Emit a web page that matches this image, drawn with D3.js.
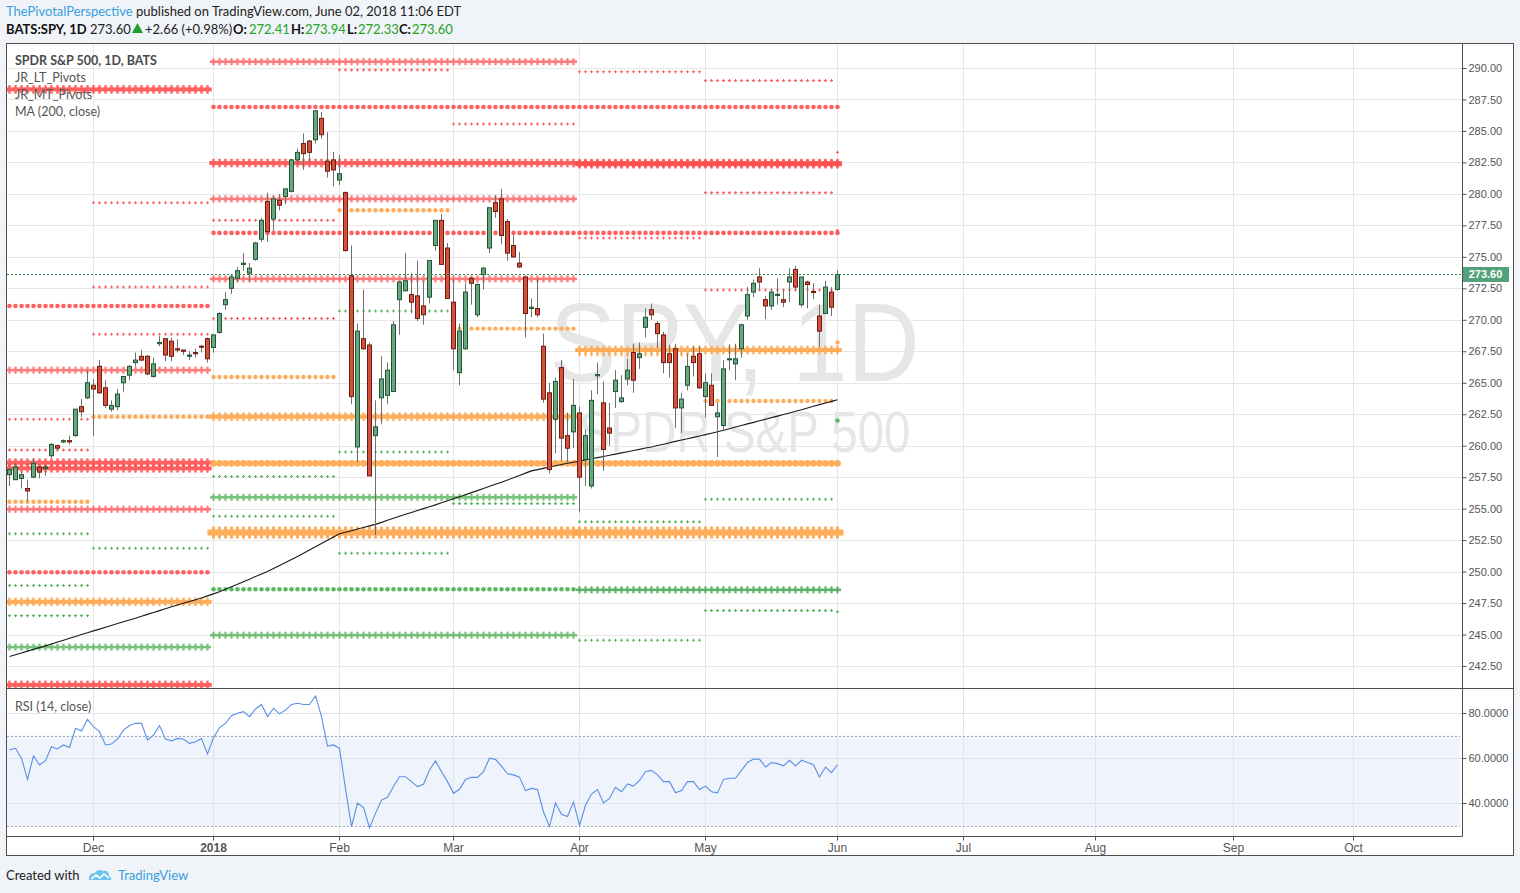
<!DOCTYPE html>
<html><head><meta charset="utf-8">
<script src="https://cdn.jsdelivr.net/npm/d3@7"></script>
<style>
body{margin:0;background:#f0f3f7;}
svg{display:block}
.ui{font-family:Lato,"Open Sans",sans-serif;}
.ax{font-family:"Liberation Sans",Arial,sans-serif;font-size:11px;fill:#555;}
</style></head><body>
<svg id="c" width="1520" height="893"></svg>
<script>
// ---------------- DATA ----------------
const dates = [
"2017-11-10","2017-11-13","2017-11-14","2017-11-15","2017-11-16","2017-11-17","2017-11-20","2017-11-21","2017-11-22","2017-11-24","2017-11-27","2017-11-28","2017-11-29","2017-11-30",
"2017-12-01","2017-12-04","2017-12-05","2017-12-06","2017-12-07","2017-12-08","2017-12-11","2017-12-12","2017-12-13","2017-12-14","2017-12-15","2017-12-18","2017-12-19","2017-12-20","2017-12-21","2017-12-22","2017-12-26","2017-12-27","2017-12-28","2017-12-29",
"2018-01-02","2018-01-03","2018-01-04","2018-01-05","2018-01-08","2018-01-09","2018-01-10","2018-01-11","2018-01-12","2018-01-16","2018-01-17","2018-01-18","2018-01-19","2018-01-22","2018-01-23","2018-01-24","2018-01-25","2018-01-26","2018-01-29","2018-01-30","2018-01-31",
"2018-02-01","2018-02-02","2018-02-05","2018-02-06","2018-02-07","2018-02-08","2018-02-09","2018-02-12","2018-02-13","2018-02-14","2018-02-15","2018-02-16","2018-02-20","2018-02-21","2018-02-22","2018-02-23","2018-02-26","2018-02-27","2018-02-28",
"2018-03-01","2018-03-02","2018-03-05","2018-03-06","2018-03-07","2018-03-08","2018-03-09","2018-03-12","2018-03-13","2018-03-14","2018-03-15","2018-03-16","2018-03-19","2018-03-20","2018-03-21","2018-03-22","2018-03-23","2018-03-26","2018-03-27","2018-03-28","2018-03-29",
"2018-04-02","2018-04-03","2018-04-04","2018-04-05","2018-04-06","2018-04-09","2018-04-10","2018-04-11","2018-04-12","2018-04-13","2018-04-16","2018-04-17","2018-04-18","2018-04-19","2018-04-20","2018-04-23","2018-04-24","2018-04-25","2018-04-26","2018-04-27","2018-04-30",
"2018-05-01","2018-05-02","2018-05-03","2018-05-04","2018-05-07","2018-05-08","2018-05-09","2018-05-10","2018-05-11","2018-05-14","2018-05-15","2018-05-16","2018-05-17","2018-05-18","2018-05-21","2018-05-22","2018-05-23","2018-05-24","2018-05-25","2018-05-29","2018-05-30","2018-05-31",
"2018-06-01"];

const open = [
257.7,257.3,257.4,256.6,257.5,258.3,258.2,259.2,260.0,260.3,260.4,260.8,263.1,263.8,
264.8,266.3,264.6,262.9,263.1,265.0,265.6,266.6,267.1,267.1,265.5,268.1,268.5,268.3,267.7,267.6,267.1,267.4,267.9,268.5,
267.8,269.0,271.2,272.5,273.3,274.4,273.7,274.8,276.4,279.4,278.0,279.5,279.8,280.2,282.7,284.0,284.2,284.3,286.0,282.6,282.7,
281.1,280.1,273.5,259.9,268.5,268.0,260.8,263.8,264.0,264.3,271.6,272.3,272.0,271.9,271.1,271.8,275.9,277.9,275.7,
271.4,265.8,267.7,273.3,270.4,273.6,275.7,279.3,279.6,277.8,275.9,274.5,273.4,270.9,270.9,267.9,264.2,262.1,266.2,260.8,261.1,
262.6,258.9,256.8,265.55,263.4,261.4,264.3,263.5,265.3,267.4,267.0,269.4,270.8,269.7,268.8,267.3,267.7,263.0,264.8,267.1,267.3,
263.9,264.8,262.3,261.6,266.85,266.5,267.7,270.3,272.2,273.4,271.6,271.1,272.0,271.6,273.0,274.0,271.2,273.0,272.25,270.3,270.5,272.2,
272.41];
const high = [
258.3,258.6,257.9,257.3,259.0,258.4,258.5,260.2,260.1,260.5,260.8,262.9,263.7,266.0,
265.3,266.8,265.2,263.6,264.5,265.5,266.4,267.4,267.6,267.2,267.0,268.7,268.5,268.6,268.45,267.6,267.5,267.7,268.0,268.6,
268.8,270.6,272.2,273.6,274.2,275.3,274.5,276.2,278.1,280.1,279.9,280.0,280.4,282.7,283.6,284.8,284.3,286.6,286.5,284.9,283.35,
283.1,280.2,275.9,269.7,272.4,268.2,263.6,267.1,266.6,269.9,273.0,275.3,273.7,274.7,273.1,274.7,277.9,278.4,276.1,
273.2,269.7,272.9,273.4,272.9,274.2,278.9,279.9,280.4,278.0,276.7,275.4,273.4,271.7,273.3,268.9,265.0,265.4,266.8,262.6,265.3,
263.1,261.3,264.4,266.6,265.1,263.4,266.0,265.6,266.9,268.1,268.2,270.9,271.3,269.9,269.05,268.0,268.1,264.2,267.3,267.9,267.9,
265.75,265.75,263.4,266.8,268.05,268.1,269.7,272.6,273.2,274.1,271.9,272.4,273.3,272.4,274.1,274.3,273.4,273.1,272.9,271.2,273.1,272.6,
273.94];
const low = [
256.8,257.3,256.6,255.6,257.4,257.4,257.6,259.0,259.6,260.2,260.1,260.7,262.3,263.7,
260.8,264.1,263.0,262.7,262.8,264.3,265.2,266.3,266.7,265.6,265.4,267.9,266.7,266.7,267.4,267.2,266.8,267.0,267.4,266.6,
267.4,268.9,270.8,272.05,273.0,273.9,273.0,274.7,276.2,276.2,277.1,278.7,279.2,280.1,282.3,281.9,282.5,284.0,284.4,281.3,280.6,
280.7,275.4,263.3,258.7,267.6,257.6,252.9,261.7,263.3,264.3,268.8,272.3,270.5,269.9,269.6,271.3,275.5,274.4,271.7,
266.0,264.8,267.6,271.2,270.2,272.4,275.3,278.1,276.0,274.7,274.9,274.1,268.6,270.2,270.2,263.4,257.8,259.4,258.8,258.6,259.8,
254.7,256.8,256.6,264.1,258.0,260.0,263.0,263.4,264.8,264.2,266.1,268.6,270.0,267.8,265.75,265.4,261.4,261.0,264.4,265.5,264.5,
262.25,263.2,259.1,261.2,266.0,265.2,267.0,270.0,271.8,272.4,270.05,270.8,271.2,271.0,271.4,272.4,271.0,270.9,271.65,267.9,270.5,270.3,
272.33];
const close = [
258.1,258.3,257.7,256.4,258.6,257.9,258.3,260.1,259.8,260.4,260.3,262.9,262.7,265.0,
264.5,264.2,263.2,263.2,264.1,265.5,266.3,266.8,266.8,265.7,266.5,268.2,267.2,267.1,267.6,267.5,267.2,267.3,267.87,266.9,
268.8,270.5,271.6,273.4,273.9,274.5,274.1,276.1,277.9,277.0,279.6,279.1,280.4,282.7,283.3,283.2,283.3,286.6,284.7,281.8,281.9,
281.6,275.5,263.9,269.1,267.7,257.6,261.5,265.3,266.0,269.6,273.0,273.1,271.4,270.1,270.4,274.7,277.9,274.4,271.7,
267.7,269.1,272.2,272.9,272.8,274.1,278.9,278.6,276.7,275.3,275.0,274.2,270.5,271.0,270.4,263.7,258.1,265.1,260.6,259.8,263.2,
257.5,260.8,263.6,265.65,259.7,261.0,265.2,263.8,266.0,265.2,267.3,270.2,270.4,268.9,266.6,266.6,263.0,263.7,266.3,266.6,264.6,
265.0,263.2,262.6,266.1,266.9,266.9,269.6,272.0,272.9,273.0,271.1,272.2,272.02,271.4,273.4,272.6,273.4,272.8,272.2,269.1,272.6,271.0,
273.60];

const ma200 = [
243.25,243.39,243.53,243.68,243.82,243.96,244.10,244.25,244.40,244.55,244.70,244.85,245.00,245.14,
245.29,245.43,245.58,245.72,245.87,246.01,246.16,246.30,246.45,246.60,246.75,246.90,247.05,247.20,247.34,247.48,247.62,247.76,247.90,248.07,
248.23,248.40,248.60,248.80,249.00,249.20,249.40,249.60,249.80,250.00,250.24,250.48,250.72,250.96,251.20,251.46,251.71,251.97,252.23,252.49,252.74,
253.00,253.13,253.25,253.38,253.50,253.63,253.75,253.91,254.08,254.24,254.40,254.55,254.70,254.85,255.00,255.15,255.30,255.46,255.62,
255.78,255.94,256.10,256.27,256.43,256.60,256.77,256.93,257.10,257.28,257.46,257.64,257.82,258.00,258.10,258.20,258.30,258.40,258.50,258.60,258.69,
258.78,258.87,258.96,259.05,259.14,259.24,259.33,259.43,259.52,259.62,259.71,259.81,259.90,260.01,260.12,260.23,260.34,260.45,260.55,260.66,260.77,
260.88,260.99,261.10,261.23,261.35,261.48,261.60,261.73,261.85,261.98,262.10,262.23,262.35,262.48,262.60,262.73,262.86,262.99,263.13,263.26,263.39,263.52,
263.65];

const rsi = [
63.6,64.3,59.9,50.5,61.0,56.9,58.8,65.0,64.0,65.8,64.7,73.2,72.0,77.2,
73.9,71.7,65.8,66.2,68.4,72.4,74.4,75.4,75.4,68.0,70.2,74.4,68.4,67.6,68.7,68.3,66.5,67.2,68.7,61.8,
69.0,73.5,75.4,78.8,79.9,80.6,78.4,81.8,83.8,78.4,82.1,79.6,81.3,83.8,84.3,83.8,83.8,87.6,78.4,65.3,65.8,
64.3,46.4,29.5,39.9,38.1,29.0,35.4,41.3,42.5,47.3,51.7,51.7,49.5,47.3,48.3,54.7,58.7,53.9,49.5,
44.3,46.1,50.5,51.4,51.4,53.9,59.9,59.4,56.4,53.0,52.5,51.5,45.5,46.5,46.0,36.0,29.5,40.0,35.0,34.0,40.5,
30.0,39.0,44.0,46.0,40.0,42.0,47.0,45.0,48.5,47.5,50.0,54.0,54.5,52.5,49.5,49.5,44.5,45.5,49.5,49.5,46.0,
47.5,45.0,44.5,50.5,51.0,51.0,54.5,58.0,59.5,59.5,56.0,58.0,57.5,56.5,59.0,56.5,59.0,58.0,57.0,51.5,56.0,53.5,
57.0];

const priceTicks = [290,287.5,285,282.5,280,277.5,275,272.5,270,267.5,265,262.5,260,257.5,255,252.5,250,247.5,245,242.5];
const rsiTicks = [80,60,40];
const rsiBand = [70,30];
const monthTicks = [["2017-12-01","Dec"],["2018-01-02","2018"],["2018-02-01","Feb"],["2018-03-01","Mar"],["2018-04-02","Apr"],["2018-05-01","May"],["2018-06-01","Jun"],["2018-07-02","Jul"],["2018-08-01","Aug"],["2018-09-03","Sep"],["2018-10-01","Oct"]];
const lastPrice = 273.60;

// pivot periods (first, last trading day)
const periods = {
  Q4:["2017-11-10","2017-12-29"], Q1:["2018-01-02","2018-03-29"], Q2:["2018-04-02","2018-06-01"],
  Nov:["2017-11-10","2017-11-30"], Dec:["2017-12-01","2017-12-29"], Jan:["2018-01-02","2018-01-31"],
  Feb:["2018-02-01","2018-02-28"], Mar:["2018-03-01","2018-03-29"], Apr:["2018-04-02","2018-04-30"],
  May:["2018-05-01","2018-05-31"], Jun:["2018-06-01","2018-06-01"]
};
// [period, level, tone]  R = resistance, P = pivot, S = support, D = deep support
const ltHeavy = [["Q4",288.3,"R"],["Q4",258.65,"R"],["Q4",258.2,"R"],["Q4",247.6,"P"],["Q4",241.0,"R"],
  ["Q1",282.45,"R"],["Q2",282.45,"R"],["Q2",282.35,"R"],["Q1",262.3,"P"],["Q2",267.6,"P"]];
const ltMedium = [["Q4",266.0,"R"],["Q4",254.95,"R"],["Q4",244.0,"S"],["Q1",290.5,"R"],["Q1",279.6,"R"],["Q1",273.25,"R"],
  ["Q1",255.9,"S"],["Q1",244.95,"S"],["Q2",248.55,"D"]];
const ltHuge = [["Q1",253.1,"P"],["Q2",253.1,"P"]];
const ltBigDots = [["Q1",258.6,"P"],["Q2",258.6,"P"]];
const ltDots = [["Q4",271.1,"R"],["Q4",249.95,"R"],["Q1",286.9,"R"],["Q2",286.9,"R"],["Q1",276.9,"R"],["Q2",276.9,"R"],["Q1",248.6,"S"]];
const mtDots = [["Nov",255.55,"P"],["Dec",262.3,"P"],["Jan",265.45,"P"],["Feb",278.7,"P"],["Mar",269.3,"P"],["May",263.55,"P"],["Jun",268.2,"P"],["Jun",262.0,"S"]];
const mtMinor = [
  ["Nov",262.1,"R"],["Nov",259.65,"R"],["Nov",253.0,"S"],["Nov",248.9,"S"],["Nov",246.5,"S"],
  ["Dec",279.3,"R"],["Dec",272.6,"R"],["Dec",268.85,"R"],["Dec",251.85,"S"],
  ["Jan",277.9,"R"],["Jan",270.1,"R"],["Jan",257.55,"S"],["Jan",254.4,"S"],
  ["Feb",289.85,"R"],["Feb",270.7,"S"],["Feb",259.5,"S"],["Feb",251.45,"S"],
  ["Mar",285.55,"R"],["Mar",255.4,"S"],
  ["Apr",289.7,"R"],["Apr",276.5,"R"],["Apr",267.2,"P"],["Apr",253.95,"S"],["Apr",244.55,"S"],
  ["May",289.0,"R"],["May",280.1,"R"],["May",272.37,"R"],["May",255.75,"S"],["May",246.9,"S"],
  ["Jun",283.3,"R"],["Jun",277.1,"R"],["Jun",246.8,"S"]];

// ---------------- LAYOUT ----------------
const svg = d3.select("#c");
const L=7, R=1462, T=44, MB=688, RB=836.5, FB=855.5, FR=1513.5;
const toneColor = d3.scaleOrdinal().domain(["R","P","S","D"]).range(["#ff4f4f","#ffa54a","#4caf50","#2a9a3a"]);

const idx = new Map(dates.map((d,i)=>[d,i]));
function barIndex(ds){
  if(idx.has(ds)) return idx.get(ds);
  let d = new Date(dates[dates.length-1]+"T12:00:00Z"), t = new Date(ds+"T12:00:00Z"), n = dates.length-1;
  while(d < t){ d = new Date(d.getTime()+86400000); const w=d.getUTCDay(); if(w!==0&&w!==6) n++; }
  return n;
}
const x = d3.scaleLinear().domain([0, dates.length-1]).range([9, 837]);
const y = d3.scaleLinear().domain([242.5, 290]).range([666, 68]);
const yr = d3.scaleLinear().domain([40, 80]).range([803, 713]);

svg.append("rect").attr("x",L).attr("y",T).attr("width",FR-L).attr("height",FB-T).attr("fill","#fff");

const defs = svg.append("defs");
defs.append("clipPath").attr("id","cm").append("rect").attr("x",L).attr("y",T).attr("width",R-L).attr("height",MB-T);
defs.append("clipPath").attr("id","cr").append("rect").attr("x",L).attr("y",MB).attr("width",R-L).attr("height",RB-MB);

const monthIdx = monthTicks.map(m=>barIndex(m[0]));

// grids
const gMain = svg.append("g").attr("clip-path","url(#cm)");
gMain.selectAll(".hg").data(priceTicks).join("line")
  .attr("x1",L).attr("x2",R).attr("y1",d=>Math.round(y(d))+0.5).attr("y2",d=>Math.round(y(d))+0.5)
  .attr("stroke","#e6e6e6");
gMain.selectAll(".vg").data(monthIdx).join("line")
  .attr("x1",d=>x(d)+0.5).attr("x2",d=>x(d)+0.5).attr("y1",T).attr("y2",MB).attr("stroke","#e6e6e6");

// watermark
gMain.append("text").attr("x",(L+R)/2).attr("y",381).attr("text-anchor","middle")
  .attr("font-family","Liberation Sans, Arial, sans-serif").attr("font-size",112)
  .attr("textLength",370).attr("lengthAdjust","spacingAndGlyphs").attr("fill","#e6e6e6").text("SPY, 1D");
gMain.append("text").attr("x",(L+R)/2+10).attr("y",452).attr("text-anchor","middle")
  .attr("font-family","Liberation Sans, Arial, sans-serif").attr("font-size",58)
  .attr("textLength",332).attr("lengthAdjust","spacingAndGlyphs").attr("fill","#e6e6e6").text("SPDR S&P 500");

// pivots
const gPiv = gMain.append("g");
function bars(p){ const s=barIndex(periods[p][0]), e=barIndex(periods[p][1]); return d3.range(s,e+1); }
function crossRow(list, band, tw, th, op){
  list.forEach(([p,lv,tone])=>{
    const b = bars(p), c = toneColor(tone), yy = y(lv);
    const g = gPiv.append("g").attr("fill",c).attr("opacity",op);
    g.append("rect").attr("x",x(b[0])+0.5-th/2).attr("y",yy-band/2).attr("width",x(b[b.length-1])-x(b[0])+th).attr("height",band);
    g.selectAll("rect.t").data(b).join("rect").attr("class","t")
      .attr("x",i=>x(i)+0.5-tw/2).attr("y",yy-th/2).attr("width",tw).attr("height",th);
  });
}
function dotRow(list, r, op){
  list.forEach(([p,lv,tone])=>{
    const b = bars(p);
    gPiv.append("g").attr("fill",toneColor(tone)).attr("opacity",op)
      .selectAll("circle").data(b).join("circle").attr("cx",i=>x(i)+0.5).attr("cy",y(lv)).attr("r",r);
  });
}
function minorRow(list){
  list.forEach(([p,lv,tone])=>{
    const b = bars(p), yy=y(lv);
    gPiv.append("g").attr("stroke",toneColor(tone)).attr("stroke-width",1.1).attr("opacity",0.9)
      .selectAll("path").data(b).join("path").attr("d",i=>`M${x(i)-1},${yy}h3M${x(i)+0.5},${yy-1.5}v3`);
  });
}
minorRow(mtMinor);
dotRow(mtDots, 2.2, 0.9);
dotRow(ltDots, 2.3, 0.9);
crossRow(ltMedium, 2.6, 2.2, 7, 0.75);
crossRow(ltHeavy, 4, 2.4, 8.5, 0.9);
dotRow(ltBigDots, 3.4, 0.9);
crossRow(ltHuge, 6, 3, 12, 0.9);

// MA 200
gMain.append("path").datum(ma200).attr("fill","none").attr("stroke","#1a1a1a").attr("stroke-width",1.1)
  .attr("d", d3.line().x((d,i)=>x(i)+0.5).y(d=>y(d)));

// candles
const gC = gMain.append("g");
const cd = dates.map((d,i)=>({i,o:open[i],h:high[i],l:low[i],c:close[i]}));
gC.selectAll("line").data(cd).join("line")
  .attr("x1",d=>x(d.i)+0.5).attr("x2",d=>x(d.i)+0.5).attr("y1",d=>y(d.h)).attr("y2",d=>y(d.l)).attr("stroke","#707070");
gC.selectAll("rect").data(cd).join("rect")
  .attr("x",d=>x(d.i)-1.5).attr("width",4)
  .attr("y",d=>y(Math.max(d.o,d.c))).attr("height",d=>Math.max(1,Math.abs(y(d.o)-y(d.c))))
  .attr("fill",d=>d.c>=d.o?"#6aa581":"#d4513d").attr("stroke",d=>d.c>=d.o?"#1f5632":"#6d1a10");

// last price line
gMain.append("line").attr("x1",L).attr("x2",R).attr("y1",Math.round(y(lastPrice))+0.5).attr("y2",Math.round(y(lastPrice))+0.5)
  .attr("stroke","#2f8a58").attr("stroke-dasharray","2,2");

// RSI pane
const gR = svg.append("g").attr("clip-path","url(#cr)");
gR.append("rect").attr("x",L).attr("width",R-2-L).attr("y",yr(rsiBand[0])).attr("height",yr(rsiBand[1])-yr(rsiBand[0])).attr("fill","#eef3fc");
gR.selectAll(".rg").data(rsiTicks).join("line").attr("x1",L).attr("x2",R).attr("y1",d=>Math.round(yr(d))+0.5).attr("y2",d=>Math.round(yr(d))+0.5).attr("stroke","#dde1ea");
gR.selectAll(".rv").data(monthIdx).join("line").attr("x1",d=>x(d)+0.5).attr("x2",d=>x(d)+0.5).attr("y1",MB).attr("y2",RB).attr("stroke","#e3e3e8");
gR.selectAll(".rb").data(rsiBand).join("line").attr("x1",L).attr("x2",R-2).attr("y1",d=>Math.round(yr(d))+0.5).attr("y2",d=>Math.round(yr(d))+0.5)
  .attr("stroke","#a8a8b0").attr("stroke-dasharray","2,2");
gR.append("path").datum(rsi).attr("fill","none").attr("stroke","#5b8fe6").attr("stroke-width",1.1)
  .attr("d", d3.line().x((d,i)=>x(i)+0.5).y(d=>yr(d)));

// axes
const pa = svg.append("g").attr("class","ax").attr("transform",`translate(${R+0.5},0)`)
  .call(d3.axisRight(y).tickValues(priceTicks).tickFormat(d3.format(".2f")).tickSize(4).tickPadding(2));
const ra = svg.append("g").attr("class","ax").attr("transform",`translate(${R+0.5},0)`)
  .call(d3.axisRight(yr).tickValues(rsiTicks).tickFormat(d3.format(".4f")).tickSize(4).tickPadding(2));
const xa = svg.append("g").attr("class","ax").attr("transform",`translate(0,${RB})`)
  .call(d3.axisBottom(x).tickValues(monthIdx).tickFormat((d,i)=>monthTicks[i][1]).tickSize(4).tickPadding(3));
[pa,ra,xa].forEach(g=>{ g.select(".domain").remove(); g.selectAll("line").attr("stroke","#555"); g.selectAll("text").attr("fill","#555").attr("font-size",11).attr("font-family","Liberation Sans, Arial, sans-serif"); });
xa.selectAll("text").attr("font-size",12).filter((d,i)=>monthTicks[i][1]==="2018").attr("font-weight","bold");

// price label
const ly = Math.round(y(lastPrice));
svg.append("rect").attr("x",R+1).attr("y",ly-7).attr("width",46).attr("height",15).attr("fill","#53a178");
svg.append("text").attr("x",R+23.5).attr("y",ly+4).attr("text-anchor","middle").attr("fill","#fff")
  .attr("font-family","Liberation Sans, Arial, sans-serif").attr("font-size",11).attr("font-weight","bold").text(d3.format(".2f")(lastPrice));

// frame lines
const fr = svg.append("g").attr("stroke","#4f4f4f").attr("fill","none");
fr.append("rect").attr("x",6.5).attr("y",43.5).attr("width",FR-6.5).attr("height",FB-43.5);
fr.append("line").attr("x1",R+0.5).attr("x2",R+0.5).attr("y1",43.5).attr("y2",RB);
fr.append("line").attr("x1",6.5).attr("x2",FR).attr("y1",MB+0.5).attr("y2",MB+0.5);
fr.append("line").attr("x1",6.5).attr("x2",R+0.5).attr("y1",RB).attr("y2",RB);

// legend texts
const lg = svg.append("g").attr("class","ui").attr("font-size",12.5).attr("fill","#555");
lg.append("text").attr("x",15).attr("y",65).attr("font-weight","bold").attr("fill","#4a4a4a").text("SPDR S&P 500, 1D, BATS");
lg.append("text").attr("x",15).attr("y",82).text("JR_LT_Pivots");
lg.append("text").attr("x",15).attr("y",99).text("JR_MT_Pivots");
lg.append("text").attr("x",15).attr("y",116).text("MA (200, close)");
lg.append("text").attr("x",15).attr("y",711).text("RSI (14, close)");

// header
const hd = svg.append("g").attr("class","ui").attr("font-size",13).attr("fill","#222");
const t1 = hd.append("text").attr("x",6).attr("y",16);
t1.append("tspan").attr("fill","#3aa0e0").text("ThePivotalPerspective");
t1.append("tspan").text(" published on TradingView.com, June 02, 2018 11:06 EDT");
const gcol="#23a223";
const parts = [[6,"BATS:SPY, 1D","#111",true],[90,"273.60","#222",false],[145,"+2.66 (+0.98%)","#222",false],
  [233,"O:","#111",true],[249,"272.41",gcol,false],[291,"H:","#111",true],[305,"273.94",gcol,false],
  [347,"L:","#111",true],[358,"272.33",gcol,false],[399,"C:","#111",true],[412,"273.60",gcol,false]];
parts.forEach(([px,t,c,b])=>hd.append("text").attr("x",px).attr("y",34).attr("fill",c).attr("font-weight",b?"bold":"normal").text(t));
hd.append("path").attr("d","M132,33 L137.5,23 L143,33 Z").attr("fill","#1e9e2a");

// footer
const ft = svg.append("g").attr("class","ui");
ft.append("text").attr("x",6).attr("y",880).attr("font-size",13).attr("fill","#222").text("Created with");
ft.append("path").attr("d","M89,880 q-1,-7 6,-7 q3,-5 8,-2 q6,-1 6,5 q3,1 2,4 z").attr("fill","#6cc4ec");
ft.append("path").attr("d","M91,879 l5,-4 l4,3 l4,-4 l5,4").attr("stroke","#fff").attr("stroke-width",1.6).attr("fill","none");
ft.append("text").attr("x",118).attr("y",880).attr("font-size",13).attr("fill","#3aa0e0").text("TradingView");
</script></body></html>
